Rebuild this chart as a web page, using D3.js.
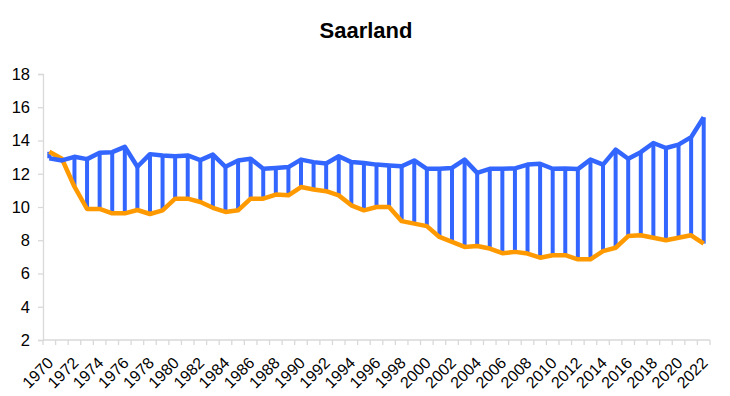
<!DOCTYPE html>
<html>
<head>
<meta charset="utf-8">
<script src="https://cdn.jsdelivr.net/npm/d3@7"></script>
<style>
  html, body { margin: 0; padding: 0; background: #fff; }
  svg { display: block; font-family: "Liberation Sans", Arial, sans-serif; }
</style>
</head>
<body>
<svg id="chart" width="730" height="396"></svg>
<script>
const title = "Saarland";
const years = d3.range(1970, 2023);
const upperValues = [12.93, 12.8, 13.02, 12.88, 13.26, 13.3, 13.62, 12.42, 13.18, 13.1,
  13.05, 13.1, 12.82, 13.15, 12.42, 12.8, 12.9, 12.3, 12.35, 12.4,
  12.85, 12.7, 12.62, 13.05, 12.7, 12.65, 12.55, 12.5, 12.45, 12.8,
  12.3, 12.3, 12.35, 12.85, 12.05, 12.3, 12.3, 12.32, 12.55, 12.6,
  12.3, 12.32, 12.28, 12.85, 12.55, 13.45, 12.9, 13.3, 13.85, 13.55,
  13.75, 14.2, 15.4];
const lowerValues = [13.32, 12.9, 11.22, 9.88, 9.88, 9.62, 9.62, 9.82, 9.58, 9.8,
  10.5, 10.5, 10.3, 9.95, 9.7, 9.8, 10.5, 10.5, 10.75, 10.7,
  11.2, 11.05, 10.95, 10.7, 10.1, 9.8, 10.0, 10.0, 9.15, 9.0,
  8.85, 8.2, 7.9, 7.6, 7.65, 7.5, 7.22, 7.3, 7.2, 6.95,
  7.1, 7.1, 6.85, 6.85, 7.35, 7.55, 8.25, 8.3, 8.15, 8.0,
  8.15, 8.3, 7.8];
const yTicks = [2, 4, 6, 8, 10, 12, 14, 16, 18];
const xLabelYears = years.filter(y => (y - 1970) % 2 === 0);

const svg = d3.select("#chart");
const x = d3.scaleBand().domain(years).range([43, 710]).padding(0);
const y = d3.scaleLinear().domain([2, 18]).range([340, 74]);
const cx = d => x(d) + x.bandwidth() / 2;

// title
svg.append("text")
  .attr("x", 366).attr("y", 38)
  .attr("text-anchor", "middle")
  .attr("font-size", 22).attr("font-weight", "bold")
  .attr("fill", "#000")
  .text(title);

// y axis
const yAxis = d3.axisLeft(y).tickValues(yTicks).tickSize(5).tickPadding(8).tickFormat(d3.format("d"));
const gy = svg.append("g").attr("transform", "translate(43,0)").call(yAxis);
gy.select(".domain").attr("stroke", "#d9d9d9").attr("stroke-width", 1.3);
gy.selectAll(".tick line").attr("stroke", "#d9d9d9").attr("stroke-width", 1.3);
gy.selectAll(".tick text").attr("font-size", 16.5).attr("fill", "#000")
  .attr("font-family", "Liberation Sans, Arial, sans-serif");

// x axis: ticks at band boundaries
const gx = svg.append("g");
gx.append("line")
  .attr("x1", x.range()[0]).attr("x2", x.range()[1])
  .attr("y1", y(2)).attr("y2", y(2))
  .attr("stroke", "#d9d9d9").attr("stroke-width", 1.3);
const boundaries = years.map(d => x(d)).concat([x.range()[1]]);
gx.selectAll("line.tk").data(boundaries).enter().append("line")
  .attr("class", "tk")
  .attr("x1", d => d).attr("x2", d => d)
  .attr("y1", y(2)).attr("y2", y(2) + 5)
  .attr("stroke", "#d9d9d9").attr("stroke-width", 1.3);
gx.selectAll("text").data(xLabelYears).enter().append("text")
  .attr("transform", d => `translate(${cx(d) + 5},${y(2) + 24}) rotate(-45)`)
  .attr("text-anchor", "end")
  .attr("font-size", 16)
  .attr("fill", "#000")
  .text(d => d);

const upper = years.map((yr, i) => ({ yr, v: upperValues[i] }));
const lower = years.map((yr, i) => ({ yr, v: lowerValues[i] }));
const line = d3.line().x(d => cx(d.yr)).y(d => y(d.v));

// high-low lines
svg.selectAll("line.hl").data(years.map((yr, i) => ({ yr, hi: upperValues[i], lo: lowerValues[i] })))
  .enter().append("line")
  .attr("class", "hl")
  .attr("x1", d => cx(d.yr)).attr("x2", d => cx(d.yr))
  .attr("y1", d => y(d.hi)).attr("y2", d => y(d.lo))
  .attr("stroke", "#3366FF").attr("stroke-width", 4);

// lower (orange) line
svg.append("path").datum(lower)
  .attr("d", line)
  .attr("fill", "none").attr("stroke", "#FF9900").attr("stroke-width", 4.5)
  .attr("stroke-linejoin", "round");

// upper (blue) line
svg.append("path").datum(upper)
  .attr("d", line)
  .attr("fill", "none").attr("stroke", "#3366FF").attr("stroke-width", 4.5)
  .attr("stroke-linejoin", "round");
</script>
</body>
</html>
